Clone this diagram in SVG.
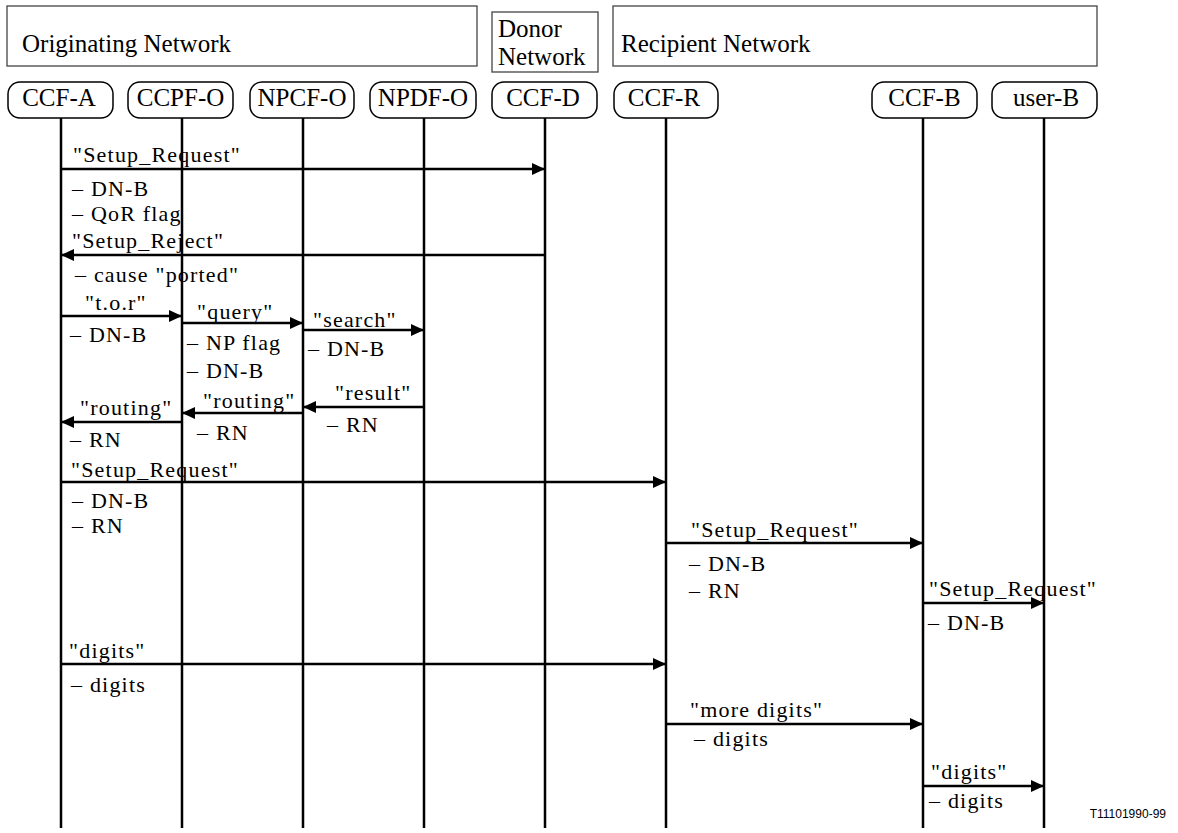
<svg xmlns="http://www.w3.org/2000/svg" width="1178" height="833" viewBox="0 0 1178 833">
<style>
.hdr{fill:none;stroke:#444;stroke-width:1.3}
.node{fill:#fff;stroke:#000;stroke-width:1.5}
.t{font-size:25px;fill:#000}
.tc{text-anchor:middle}
.m{font-size:22px;letter-spacing:1.2px;fill:#000}
.life{stroke:#000;stroke-width:2.5}
.msg{stroke:#000;stroke-width:2.5;fill:none;marker-end:url(#ah)}
.code{font-size:12px;fill:#000;text-anchor:end}
</style>
<defs>
<marker id="ah" markerUnits="userSpaceOnUse" markerWidth="14" markerHeight="12" refX="13" refY="6" orient="auto">
<path d="M0,0 L13,6 L0,12 z" fill="#000"/>
</marker>
</defs>
<rect width="1178" height="833" fill="#fff"/>
<g font-family="'Liberation Serif', 'Times New Roman', Times, serif">
<g id="networks">
<g id="net-orig"><rect class="hdr" x="7" y="6" width="470" height="60"/><text class="t" x="22" y="52">Originating Network</text></g>
<g id="net-donor"><rect class="hdr" x="492" y="12" width="106" height="60"/><text class="t" x="498" y="37">Donor</text><text class="t" x="498" y="65">Network</text></g>
<g id="net-recip"><rect class="hdr" x="613" y="6" width="484" height="60"/><text class="t" x="621" y="52">Recipient Network</text></g>
</g>
<g id="lifelines">
<line class="life" x1="61" y1="118" x2="61" y2="828"/>
<line class="life" x1="182" y1="118" x2="182" y2="828"/>
<line class="life" x1="303" y1="118" x2="303" y2="828"/>
<line class="life" x1="424" y1="118" x2="424" y2="828"/>
<line class="life" x1="545" y1="118" x2="545" y2="828"/>
<line class="life" x1="666" y1="118" x2="666" y2="828"/>
<line class="life" x1="923" y1="118" x2="923" y2="828"/>
<line class="life" x1="1044" y1="118" x2="1044" y2="828"/>
</g>
<g id="CCF-A"><rect class="node" x="8" y="82" width="105" height="36" rx="12"/><text class="t tc" x="59" y="106">CCF-A</text></g>
<g id="CCPF-O"><rect class="node" x="128" y="82" width="105" height="36" rx="12"/><text class="t tc" x="180.5" y="106">CCPF-O</text></g>
<g id="NPCF-O"><rect class="node" x="250" y="82" width="104" height="36" rx="12"/><text class="t tc" x="302" y="106">NPCF-O</text></g>
<g id="NPDF-O"><rect class="node" x="370" y="82" width="106" height="36" rx="12"/><text class="t tc" x="423" y="106">NPDF-O</text></g>
<g id="CCF-D"><rect class="node" x="492" y="82" width="105" height="36" rx="12"/><text class="t tc" x="543" y="106">CCF-D</text></g>
<g id="CCF-R"><rect class="node" x="614" y="82" width="104" height="36" rx="12"/><text class="t tc" x="664" y="106">CCF-R</text></g>
<g id="CCF-B"><rect class="node" x="872" y="82" width="105" height="36" rx="12"/><text class="t tc" x="924.5" y="106">CCF-B</text></g>
<g id="user-B"><rect class="node" x="992" y="82" width="105" height="36" rx="12"/><text class="t tc" x="1046" y="106">user-B</text></g>
<g id="connectors">
<line class="msg" x1="61" y1="169" x2="545" y2="169"/>
<line class="msg" x1="545" y1="255" x2="61" y2="255"/>
<line class="msg" x1="61" y1="316" x2="182" y2="316"/>
<line class="msg" x1="182" y1="323" x2="303" y2="323"/>
<line class="msg" x1="303" y1="330" x2="424" y2="330"/>
<line class="msg" x1="424" y1="407" x2="303" y2="407"/>
<line class="msg" x1="303" y1="413" x2="182" y2="413"/>
<line class="msg" x1="182" y1="422" x2="61" y2="422"/>
<line class="msg" x1="61" y1="482" x2="666" y2="482"/>
<line class="msg" x1="666" y1="543" x2="923" y2="543"/>
<line class="msg" x1="923" y1="603" x2="1044" y2="603"/>
<line class="msg" x1="61" y1="664" x2="666" y2="664"/>
<line class="msg" x1="666" y1="724" x2="923" y2="724"/>
<line class="msg" x1="923" y1="786" x2="1044" y2="786"/>
</g>
<g id="labels">
<text class="m" x="73" y="162">"Setup_Request"</text>
<text class="m" x="72" y="196">– DN-B</text>
<text class="m" x="72" y="221">– QoR flag</text>
<text class="m" x="72" y="248">"Setup_Reject"</text>
<text class="m" x="75" y="282">– cause "ported"</text>
<text class="m" x="85" y="310">"t.o.r"</text>
<text class="m" x="70" y="342">– DN-B</text>
<text class="m" x="197" y="319">"query"</text>
<text class="m" x="187" y="350">– NP flag</text>
<text class="m" x="187" y="378">– DN-B</text>
<text class="m" x="313" y="327">"search"</text>
<text class="m" x="308" y="356">– DN-B</text>
<text class="m" x="335" y="400">"result"</text>
<text class="m" x="327" y="432">– RN</text>
<text class="m" x="203" y="408">"routing"</text>
<text class="m" x="197" y="440">– RN</text>
<text class="m" x="80" y="415">"routing"</text>
<text class="m" x="70" y="447">– RN</text>
<text class="m" x="71" y="477">"Setup_Request"</text>
<text class="m" x="72" y="508">– DN-B</text>
<text class="m" x="72" y="533">– RN</text>
<text class="m" x="691" y="537">"Setup_Request"</text>
<text class="m" x="689" y="571">– DN-B</text>
<text class="m" x="689" y="598">– RN</text>
<text class="m" x="929" y="596">"Setup_Request"</text>
<text class="m" x="928" y="630">– DN-B</text>
<text class="m" x="69" y="658">"digits"</text>
<text class="m" x="71" y="692">– digits</text>
<text class="m" x="690" y="717">"more digits"</text>
<text class="m" x="694" y="746">– digits</text>
<text class="m" x="931" y="779">"digits"</text>
<text class="m" x="929" y="808">– digits</text>
</g>
</g>
<text class="code" font-family="'Liberation Sans', Arial, sans-serif" x="1166" y="818">T11101990-99</text>
</svg>
